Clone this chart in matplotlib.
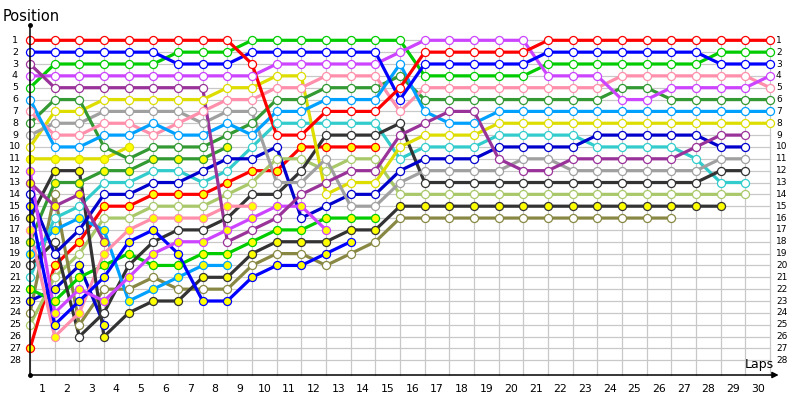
import matplotlib
matplotlib.use("Agg")
import matplotlib.pyplot as plt

# lap chart: position of each driver after every lap (index 0 = grid)
laps = list(range(0, 31))
lap_labels = [str(i) for i in range(1, 31)]
pos_labels = [str(i) for i in range(1, 29)]

red = [1, 1, 1, 1, 1, 1, 1, 1, 1, 3, 9, 9, 7, 7, 7, 5, 2, 2, 2, 2, 2, 1, 1, 1, 1, 1, 1, 1, 1, 1, 1]
blue = [2, 2, 2, 2, 2, 2, 3, 3, 3, 2, 2, 2, 2, 2, 2, 6, 3, 3, 3, 3, 3, 2, 2, 2, 2, 2, 2, 2, 3, 3, 3]
dkpurple = [3, 5, 5, 5, 5, 5, 5, 5, 18, 17, 16, 14, 13, 12, 12, 9, 8, 7, 7, 11, 12, 12, 11, 11, 11, 11, 11, 10, 9, 9]
violet = [4, 4, 4, 4, 4, 4, 4, 4, 4, 4, 3, 3, 3, 3, 3, 2, 1, 1, 1, 1, 1, 4, 4, 4, 6, 6, 5, 5, 5, 5, 4]
green = [5, 3, 3, 3, 3, 3, 2, 2, 2, 1, 1, 1, 1, 1, 1, 1, 4, 4, 4, 4, 4, 3, 3, 3, 3, 3, 3, 3, 2, 2, 2]
ltblue = [6, 10, 10, 9, 9, 8, 9, 9, 8, 9, 7, 7, 6, 6, 6, 3, 7, 8, 8, 7, 7, 7, 7, 7, 7, 7, 7, 7, 7, 7, 7]
pink = [7, 9, 9, 8, 8, 9, 8, 7, 6, 6, 5, 5, 4, 4, 4, 7, 5, 5, 5, 5, 5, 5, 5, 5, 4, 4, 4, 4, 4, 4, 5]
dkgreen = [8, 6, 6, 10, 11, 10, 10, 10, 9, 8, 6, 6, 5, 5, 5, 4, 6, 6, 6, 6, 6, 6, 6, 6, 5, 5, 6, 6, 6, 6, 6]
gray = [9, 8, 8, 7, 7, 7, 7, 8, 7, 7, 13, 13, 11, 15, 15, 13, 12, 12, 12, 12, 11, 11, 12, 12, 12, 12, 12, 12, 11, 11]
yellow = [10, 7, 7, 6, 6, 6, 6, 6, 5, 5, 4, 4, 14, 13, 13, 10, 9, 9, 9, 8, 8, 8, 8, 8, 8, 8, 8, 8, 8, 8, 8]
yellow_b = [11, 11, 11, 11, 10]
violet_b = [12, 24, 22, 23, 21, 19, 18, 18, 17, 16, 15, 15, 17]
dkpurple_b = [13, 15, 14, 18]
dkblue = [14, 19, 17, 14, 14, 13, 13, 12, 11, 11, 10, 16, 15, 14, 14, 12, 11, 11, 11, 10, 10, 10, 10, 9, 9, 9, 9, 9, 10, 10]
blue_b = [15, 25, 23, 21, 18, 17, 19, 23, 23, 21, 20, 20, 19, 18]
dkgray_b = [16, 12, 12, 26, 24, 23, 23, 21, 21, 19, 18, 18, 18, 17, 17, 15, 15, 15, 15, 15, 15, 15, 15, 15, 15, 15, 15, 15, 15]
pink_b = [17, 26, 24, 19, 17, 16, 16, 16, 15, 15]
dkgreen_b = [18, 13, 13, 12, 12, 11, 11, 11, 10]
ltblue_b = [19, 17, 16, 17, 23, 22, 21, 20, 20]
dkgray = [20, 18, 26, 24, 20, 18, 17, 17, 16, 14, 14, 12, 9, 9, 9, 8, 13, 13, 13, 13, 13, 13, 13, 13, 13, 13, 13, 13, 12, 12]
cyan = [21, 16, 15, 13, 13, 12, 12, 13, 12, 10, 8, 8, 8, 8, 8, 11, 10, 10, 10, 9, 9, 9, 9, 10, 10, 10, 10, 11, 13, 13]
green_b = [22, 23, 21, 20, 19, 20, 20, 19, 19, 18, 17, 17, 16, 16, 16]
dkblue_b = [23, 22, 20, 25]
olive = [24, 14, 25, 22, 22, 21, 22, 22, 22, 20, 19, 19, 20, 19, 18, 16, 16, 16, 16, 16, 16, 16, 16, 16, 16, 16, 16]
ltgreen = [25, 21, 19, 16, 16, 15, 15, 15, 14, 13, 11, 11, 12, 11, 11, 14, 14, 14, 14, 14, 14, 14, 14, 14, 14, 14, 14, 14, 14, 14]
red_b = [27, 20, 18, 15, 15, 14, 14, 14, 13, 12, 12, 10, 10, 10, 10]

# (positions, line colour, yellow marker fill) in grid order
drivers = [
    (red, '#ff0000', False), (blue, '#0000ff', False), (dkpurple, '#993399', False),
    (violet, '#cc44ff', False), (green, '#00cc00', False), (ltblue, '#00a0ff', False),
    (pink, '#ff8fab', False), (dkgreen, '#339933', False), (gray, '#a0a0a0', False),
    (yellow, '#dddd00', False), (yellow_b, '#dddd00', True), (violet_b, '#cc44ff', True),
    (dkpurple_b, '#993399', True), (dkblue, '#0000cc', False), (blue_b, '#0000ff', True),
    (dkgray_b, '#333333', True), (pink_b, '#ff8fab', True), (dkgreen_b, '#339933', True),
    (ltblue_b, '#00a0ff', True), (dkgray, '#333333', False), (cyan, '#33cccc', False),
    (green_b, '#00cc00', True), (dkblue_b, '#0000cc', True), (olive, '#888844', False),
    (ltgreen, '#a8c86a', False), (red_b, '#ff0000', True),
]

fig = plt.figure(figsize=(8, 4), dpi=100)
ax = fig.add_axes([0, 0, 1, 1])
# pixel mapping: lap c -> x = 30 + 24.667c, position p -> y = 40.3 + 11.85(p-1)
ax.set_xlim(-30 / 24.667, 770 / 24.667)
ax.set_ylim((400 - 40.3) / 11.85 + 1, (0 - 40.3) / 11.85 + 1)
ax.axis('off')

y_bottom = (375 - 40.3) / 11.85 + 1
y_top = (25 - 40.3) / 11.85 + 1

for c in laps:
    ax.plot([c, c], [1, y_bottom], color='#c8c8c8', lw=0.9, zorder=1)
for p in range(1, 29):
    ax.plot([0, 30], [p, p], color='#c8c8c8', lw=0.9, zorder=1)

n = len(drivers)
for i, (pos, col, filled) in enumerate(drivers):
    x = laps[:len(pos)]
    ax.plot(x, pos, color=col, lw=2.3, solid_capstyle='round', zorder=10 + n - i)
for i, (pos, col, filled) in enumerate(drivers):
    x = laps[:len(pos)]
    ax.plot(x, pos, ls='none', marker='o', ms=5.8, mew=0.9, mec=col,
            mfc='#ffff00' if filled else 'white', zorder=50 + n - i)

# axes
ax.plot([0, 0], [y_top, y_bottom], color='black', lw=1.1, zorder=80)
ax.plot([0], [y_top], marker='o', ms=2.5, color='black', zorder=80)
ax.plot([0], [y_bottom], marker='o', ms=2.5, color='black', zorder=80)
ax.annotate('', xy=(30.35, y_bottom), xytext=(0, y_bottom),
            arrowprops=dict(arrowstyle='-|>', color='black', lw=1.1,
                            mutation_scale=9, shrinkA=0, shrinkB=0), zorder=80)

for p, lab in enumerate(pos_labels, start=1):
    ax.text(-0.61, p, lab, ha='center', va='center', fontsize=6.8, color='black')
    ax.text(30.24, p, lab, ha='left', va='center', fontsize=6.5, color='black')
for k, lab in enumerate(lap_labels, start=1):
    ax.text(k - 0.5, 30.4, lab, ha='center', va='center', fontsize=7.8, color='black')

ax.text(-1.12, (16 - 40.3) / 11.85 + 1, 'Position', ha='left', va='center', fontsize=10.5, color='black')
ax.text(29.55, (364 - 40.3) / 11.85 + 1, 'Laps', ha='center', va='center', fontsize=9, color='black')

fig.savefig('out.png', dpi=100)
